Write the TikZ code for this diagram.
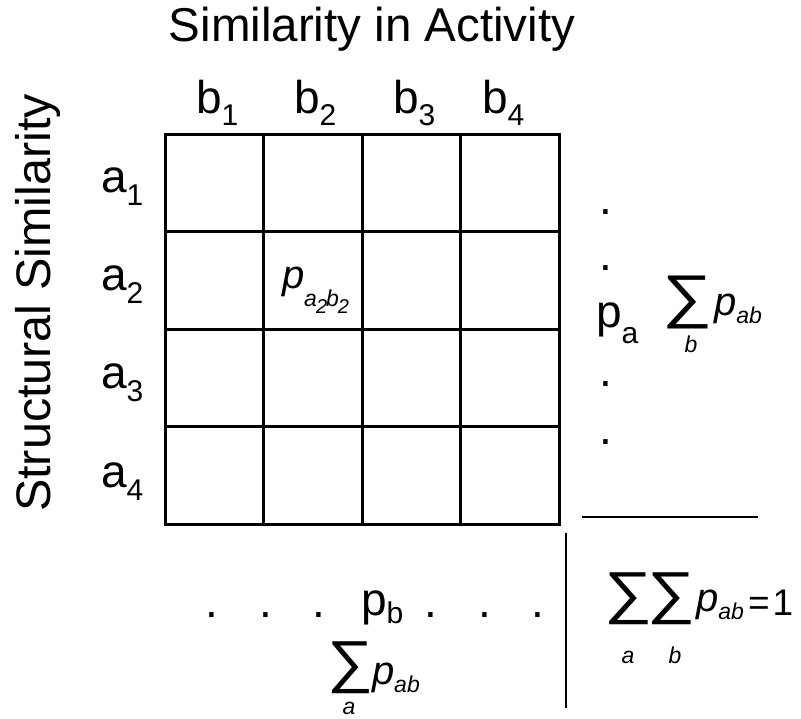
\documentclass[tikz,border=0pt]{standalone}
\usepackage{graphicx}
\usepackage{fontspec}
\setmainfont{Liberation Sans}
\newcommand\lblf{\fontsize{46pt}{46pt}\selectfont}
\newcommand\subf{\fontsize{30pt}{30pt}\selectfont}
\newcommand\titf{\fontsize{47.5pt}{47.5pt}\selectfont}
\newcommand\ytitf{\fontsize{48.5pt}{48.5pt}\selectfont}
\newcommand\mpf{\fontsize{40pt}{40pt}\selectfont\itshape}
\newcommand\msubf{\fontsize{23pt}{23pt}\selectfont\itshape}
\newcommand\mssf{\fontsize{20pt}{20pt}\selectfont}
\newcommand\eqf{\fontsize{37pt}{37pt}\selectfont}
\newcommand\sumsym[2]{\resizebox*{#1}{#2}{∑}}
\begin{document}
\begin{tikzpicture}[x=1pt,y=-1pt,
  txt/.style={inner sep=0pt, outer sep=0pt},
  bl/.style={txt, anchor=base west},
  gridln/.style={line width=3pt, black},
  sepln/.style={line width=1.5pt, black}]
\useasboundingbox[fill=white] (0,0) rectangle (801,718);
% titles
\node[txt, anchor=base] (title) at (372,41) {\titf Similarity in Activity};
\node[txt, anchor=base, rotate=90] (ytitle) at (50,303) {\ytitf Structural Similarity};
% column labels
\node[bl] (b1) at (196,113) {\lblf b\raisebox{-12pt}{\subf 1}};
\node[bl] (b2) at (294,113) {\lblf b\raisebox{-12pt}{\subf 2}};
\node[bl] (b3) at (393,113) {\lblf b\raisebox{-12pt}{\subf 3}};
\node[bl] (b4) at (482,113) {\lblf b\raisebox{-12pt}{\subf 4}};
% row labels
\node[bl] (a1) at (101,192) {\lblf a\raisebox{-13pt}{\subf 1}};
\node[bl] (a2) at (101,290) {\lblf a\raisebox{-13pt}{\subf 2}};
\node[bl] (a3) at (101,388) {\lblf a\raisebox{-13pt}{\subf 3}};
\node[bl] (a4) at (101,487) {\lblf a\raisebox{-13pt}{\subf 4}};
% grid
\draw[gridln] (165,134) rectangle (559,524);
\foreach \i in {1,2,3} {
  \draw[gridln] ({165+98.5*\i},134) -- ({165+98.5*\i},524);
  \draw[gridln] (165,{134+97.5*\i}) -- (559,{134+97.5*\i});
}
% cell entry
\node[bl] (pcell) at (282,288) {\mpf p\raisebox{-18pt}{\msubf a\kern-1pt\raisebox{-7pt}{\mssf 2}\kern-1pt b\kern-1pt\raisebox{-7pt}{\mssf 2}}};
% right margin
\node[bl] (rd1) at (599,214) {\lblf .};
\node[bl] (rd2) at (599,270) {\lblf .};
\node[bl] (rd3) at (599,386) {\lblf .};
\node[bl] (rd4) at (599,444) {\lblf .};
\node[bl] (pa) at (596,327) {\lblf p\raisebox{-16pt}{\subf a}};
\node[txt] (sumb) at (687.5,302) {\sumsym{50pt}{53pt}};
\node[txt, anchor=base] (sumbidx) at (691,352) {\msubf b};
\node[bl] (pab1) at (714,315) {\mpf p\raisebox{-8pt}{\msubf ab}};
% bottom margin
\node[bl] (bd1) at (205,617) {\lblf .};
\node[bl] (bd2) at (259,617) {\lblf .};
\node[bl] (bd3) at (312,617) {\lblf .};
\node[bl] (pb) at (361,615) {\lblf p\raisebox{-8pt}{\subf b}};
\node[bl] (bd4) at (424,617) {\lblf .};
\node[bl] (bd5) at (478,617) {\lblf .};
\node[bl] (bd6) at (531,617) {\lblf .};
\node[txt] (suma) at (350,668) {\sumsym{46pt}{52pt}};
\node[txt, anchor=base] (sumaidx) at (349,714) {\msubf a};
\node[bl] (pab2) at (372,684) {\mpf p\raisebox{-8pt}{\msubf ab}};
% separators
\coordinate (hs) at (582,517);
\coordinate (he) at (758,517);
\coordinate (vs) at (566,533);
\coordinate (ve) at (566,708);
\draw[sepln] (hs) -- (he);
\draw[sepln] (vs) -- (ve);
% total
\node[txt] (sum1) at (628,599) {\sumsym{48pt}{52pt}};
\node[txt] (sum2) at (671.5,599) {\sumsym{48pt}{52pt}};
\node[txt, anchor=base] (sum1idx) at (628,663) {\msubf a};
\node[txt, anchor=base] (sum2idx) at (675,663) {\msubf b};
\node[bl] (pab3) at (696,611) {\mpf p\raisebox{-8pt}{\msubf ab}};
\node[bl] (eqone) at (748,615) {\eqf =\kern3pt1};
\end{tikzpicture}
\end{document}
